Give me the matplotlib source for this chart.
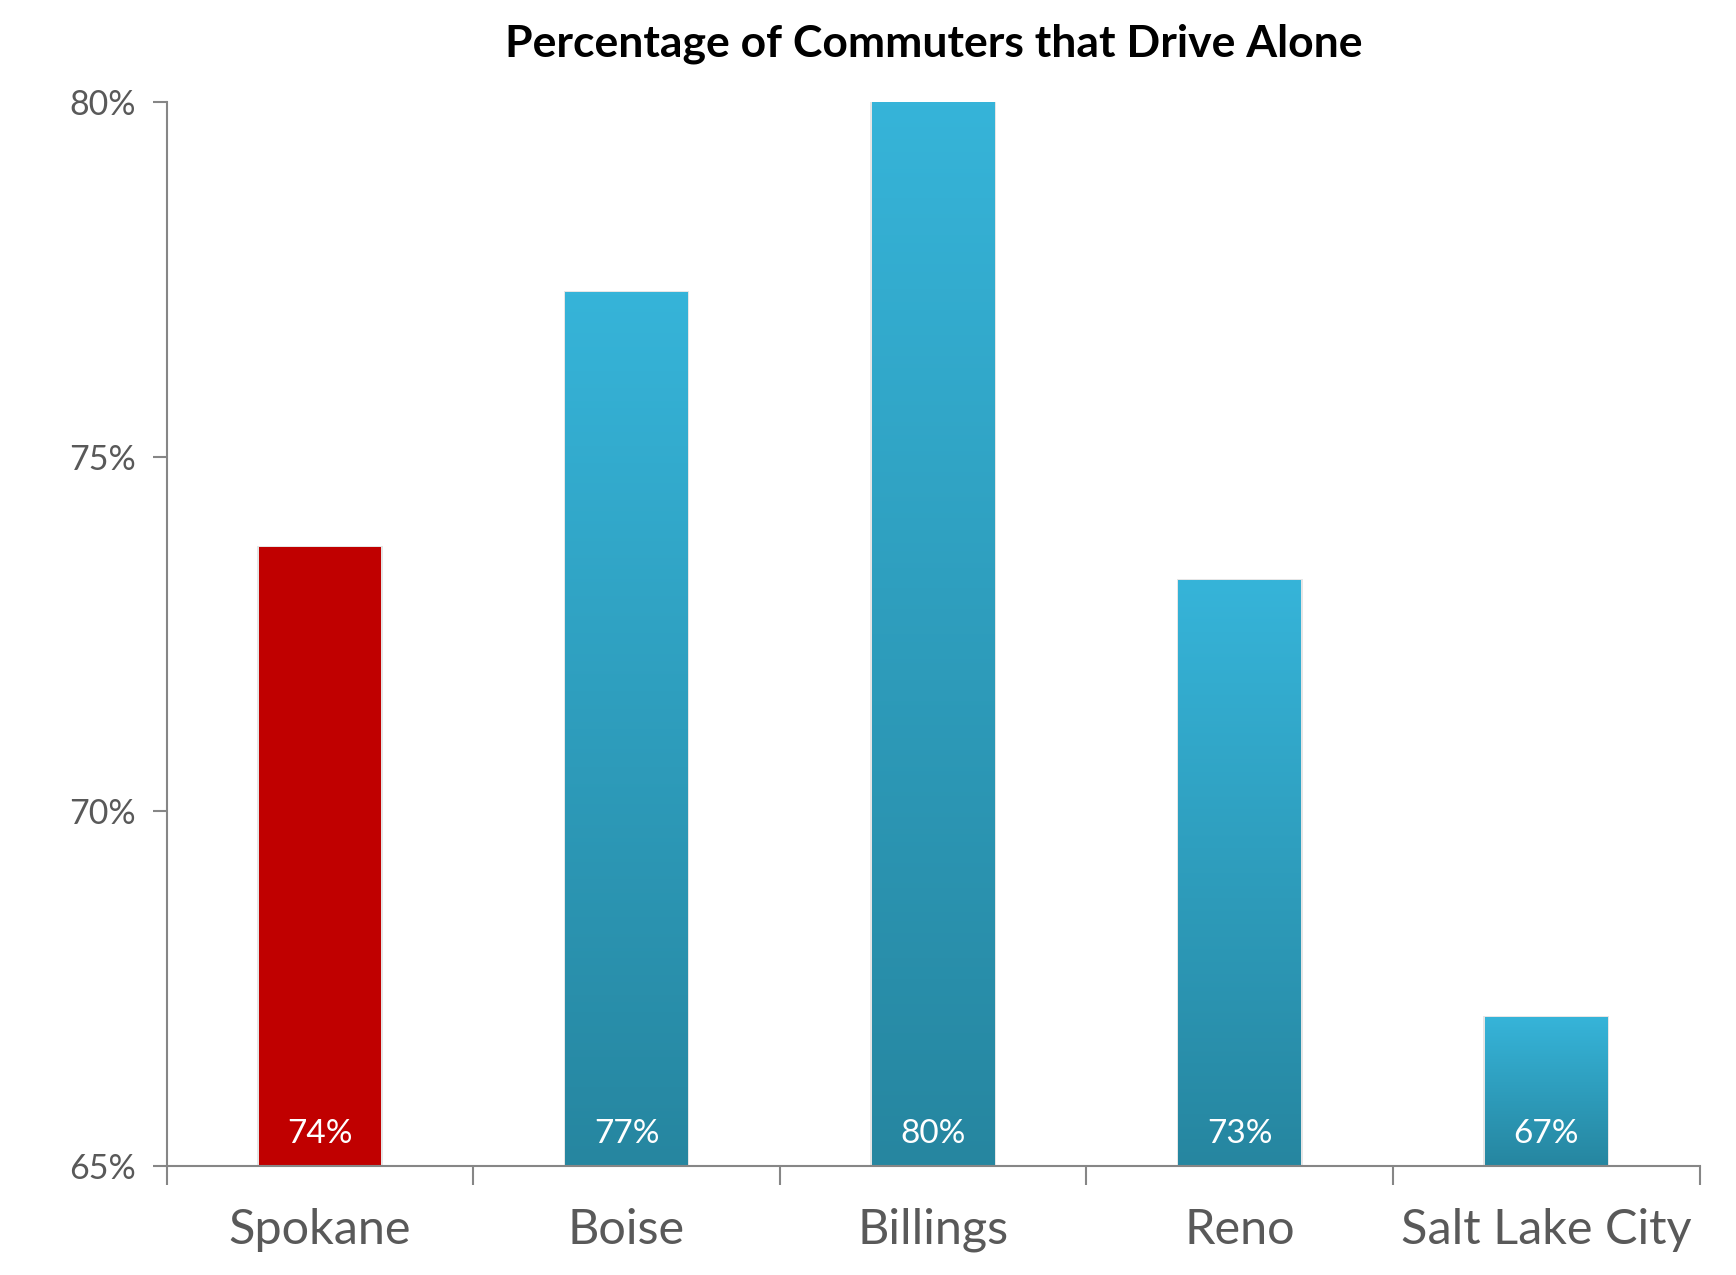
import numpy as np
import matplotlib
matplotlib.use('Agg')
import matplotlib.pyplot as plt
from matplotlib.colors import LinearSegmentedColormap

# data
cities = ['Spokane', 'Boise', 'Billings', 'Reno', 'Salt Lake City']
drive_alone = [73.72, 77.31, 80.0, 73.25, 67.09]
highlight = 'Spokane'

plt.rcParams['font.family'] = ['Lato', 'DejaVu Sans']

fig = plt.figure(figsize=(17.36, 12.75), dpi=100)
ax = fig.add_axes([0.096, 0.0855, 0.883, 0.8345])

ymin, ymax = 65, 80
x = np.arange(len(cities))
bars = ax.bar(x, [v - ymin for v in drive_alone], bottom=ymin, width=0.4,
              color='none', edgecolor='none', zorder=2)

blue_grad = LinearSegmentedColormap.from_list('blue', ['#2686A0', '#36B4D9'])
grad = np.linspace(0, 1, 256).reshape(-1, 1)

for city, b, v in zip(cities, bars, drive_alone):
    x0 = b.get_x()
    x1 = x0 + b.get_width()
    # faint shadow behind the bar
    ax.add_patch(plt.Rectangle((x0 - 0.005, ymin), b.get_width() + 0.01, v - ymin + 0.02,
                               color='#e6e6e6', zorder=1, lw=0))
    if city == highlight:
        ax.add_patch(plt.Rectangle((x0, ymin), b.get_width(), v - ymin,
                                   color='#C00000', zorder=2, lw=0))
    else:
        ax.imshow(grad, extent=(x0, x1, ymin, v), origin='lower', aspect='auto',
                  cmap=blue_grad, zorder=2)
    ax.annotate(f'{round(v)}%', (b.get_x() + b.get_width() / 2, ymin),
                xytext=(0, 12), textcoords='offset points', ha='center', va='bottom',
                color='white', fontsize=24, zorder=3)

ax.set_xlim(-0.5, len(cities) - 0.5)
ax.set_ylim(ymin, ymax)

ax.set_yticks([65, 70, 75, 80])
ax.set_yticklabels(['65%', '70%', '75%', '80%'])
ax.tick_params(axis='y', colors='#868686', labelcolor='#595959', labelsize=24.5,
               length=10, width=1.5, pad=12)

# category boundaries as ticks, names centred
ax.set_xticks(np.arange(len(cities) + 1) - 0.5)
ax.set_xticklabels([])
ax.set_xticks(x, minor=True)
ax.set_xticklabels(cities, minor=True)
ax.tick_params(axis='x', which='major', colors='#868686', length=14, width=1.5)
ax.tick_params(axis='x', which='minor', length=0, labelcolor='#595959',
               labelsize=35, pad=30)

for s in ['top', 'right']:
    ax.spines[s].set_visible(False)
for s in ['left', 'bottom']:
    ax.spines[s].set_color('#868686')
    ax.spines[s].set_linewidth(1.5)

fig.text(0.538, 0.966, 'Percentage of Commuters that Drive Alone', ha='center', va='center',
         fontsize=32, fontweight='bold', color='black')

fig.savefig('out.png', dpi=100, facecolor='white')
